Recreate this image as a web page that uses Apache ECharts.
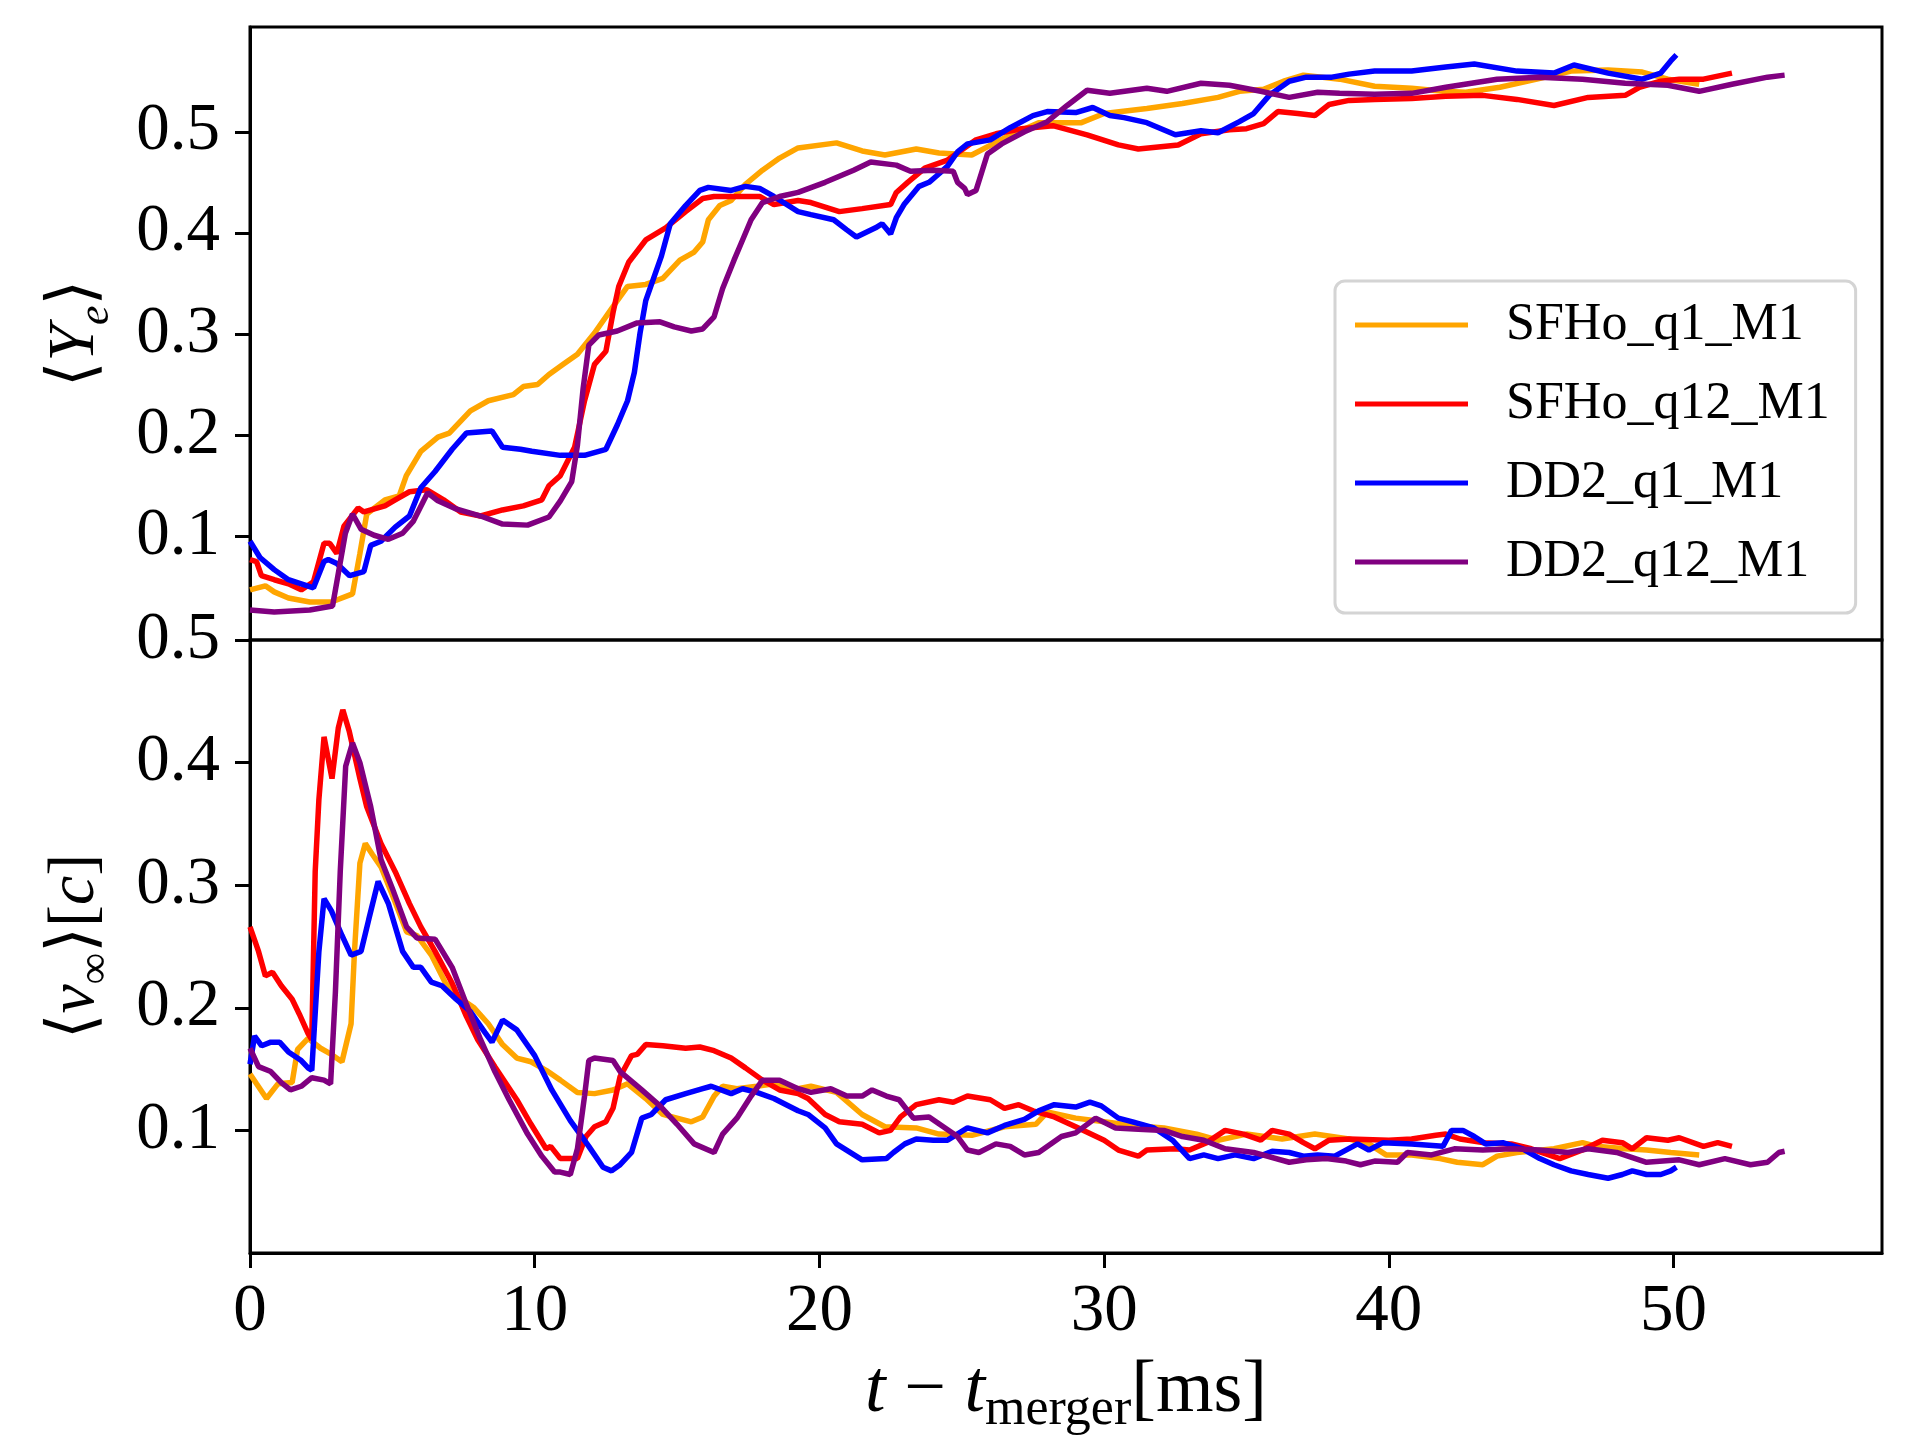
<!DOCTYPE html>
<html>
<head>
<meta charset="utf-8">
<script src="https://cdn.jsdelivr.net/npm/echarts@6/dist/echarts.min.js"></script>
<style>html,body{margin:0;padding:0;background:#fff}#c{width:1920px;height:1440px}</style>
</head>
<body>
<div id="c"></div>
<script>
// ---- data: [t - t_merger (ms), value] ----
const seriesNames = ['SFHo_q1_M1', 'SFHo_q12_M1', 'DD2_q1_M1', 'DD2_q12_M1'];
const xTickValues = [0, 10, 20, 30, 40, 50];
const yTickValues = [0.1, 0.2, 0.3, 0.4, 0.5];

const yeSFHoQ1 = [[0,0.047],[0.54,0.051],[0.85,0.045],[1.35,0.039],[2.1,0.035],[2.86,0.035],[3.6,0.043],[3.86,0.083],[4.1,0.122],[4.74,0.136],[5.24,0.140],[5.49,0.16],[6.0,0.184],[6.6,0.198],[7.0,0.202],[7.74,0.224],[8.37,0.234],[9.25,0.240],[9.6,0.248],[10.1,0.250],[10.5,0.260],[11.0,0.270],[11.5,0.280],[12.1,0.301],[12.75,0.327],[13.26,0.347],[13.9,0.349],[14.5,0.355],[15.1,0.373],[15.6,0.381],[15.9,0.391],[16.1,0.413],[16.5,0.427],[16.9,0.432],[17.4,0.448],[18.0,0.462],[18.6,0.474],[19.25,0.484],[20.6,0.489],[21.5,0.481],[22.3,0.477],[23.4,0.483],[24.2,0.479],[25.35,0.477],[26.5,0.494],[27.7,0.509],[29.2,0.509],[30.0,0.518],[31.5,0.523],[32.75,0.528],[34.0,0.534],[34.75,0.540],[35.6,0.542],[36.3,0.550],[37.0,0.556],[38.27,0.552],[39.5,0.545],[40.8,0.543],[41.9,0.540],[42.7,0.539],[43.9,0.544],[45.2,0.552],[46.4,0.560],[47.7,0.561],[48.9,0.559],[49.8,0.552],[50.9,0.547]];
const yeSFHoQ12 = [[0,0.077],[0.23,0.075],[0.4,0.061],[0.85,0.057],[1.35,0.053],[1.8,0.047],[2.23,0.055],[2.6,0.093],[2.8,0.093],[3.05,0.083],[3.3,0.110],[3.8,0.128],[4.0,0.124],[4.74,0.130],[5.1,0.136],[5.6,0.144],[6.2,0.146],[6.8,0.136],[7.4,0.124],[8.1,0.120],[8.87,0.126],[9.6,0.130],[10.25,0.136],[10.5,0.150],[10.9,0.160],[11.4,0.188],[11.75,0.234],[12.1,0.270],[12.5,0.283],[12.75,0.321],[12.95,0.347],[13.3,0.371],[13.9,0.393],[14.6,0.405],[15.3,0.421],[15.9,0.434],[16.3,0.436],[17.1,0.436],[17.9,0.436],[18.4,0.428],[19.25,0.432],[19.7,0.430],[20.7,0.421],[21.5,0.424],[22.5,0.428],[22.7,0.440],[23.1,0.450],[23.7,0.464],[24.5,0.472],[25.5,0.492],[26.2,0.498],[27.1,0.503],[28.2,0.506],[29.4,0.497],[30.5,0.487],[31.2,0.483],[32.6,0.487],[33.4,0.498],[34.4,0.502],[35.0,0.503],[35.6,0.508],[36.1,0.520],[36.8,0.518],[37.4,0.516],[37.9,0.527],[38.6,0.531],[39.5,0.532],[40.8,0.533],[42.0,0.535],[43.3,0.536],[44.5,0.532],[45.8,0.526],[47.0,0.534],[48.3,0.536],[48.8,0.544],[49.55,0.550],[50.2,0.552],[51.05,0.552],[52.05,0.558]];
const yeDD2Q1 = [[0,0.095],[0.35,0.079],[0.85,0.067],[1.35,0.057],[1.8,0.053],[2.23,0.049],[2.6,0.075],[2.75,0.077],[3.05,0.073],[3.5,0.061],[4.0,0.065],[4.24,0.091],[4.6,0.095],[5.1,0.109],[5.6,0.120],[6.0,0.148],[6.5,0.164],[7.1,0.186],[7.6,0.202],[8.5,0.204],[8.87,0.188],[9.5,0.186],[9.9,0.184],[10.9,0.180],[11.75,0.180],[12.5,0.186],[12.9,0.210],[13.26,0.234],[13.5,0.262],[13.7,0.301],[13.9,0.333],[14.1,0.349],[14.45,0.377],[14.76,0.409],[15.3,0.427],[15.8,0.442],[16.1,0.445],[16.9,0.442],[17.4,0.446],[17.9,0.444],[18.4,0.436],[19.25,0.421],[19.7,0.418],[20.5,0.413],[20.96,0.403],[21.3,0.396],[21.97,0.405],[22.2,0.409],[22.5,0.399],[22.7,0.415],[22.97,0.428],[23.5,0.446],[23.85,0.450],[24.1,0.456],[24.5,0.466],[24.85,0.480],[25.2,0.488],[26.0,0.492],[26.7,0.504],[27.5,0.516],[28.0,0.520],[29.0,0.519],[29.6,0.524],[30.2,0.516],[30.7,0.514],[31.5,0.509],[32.5,0.497],[33.4,0.501],[34.0,0.499],[34.75,0.510],[35.25,0.518],[35.8,0.536],[36.5,0.550],[37.1,0.554],[38.0,0.554],[38.6,0.557],[39.5,0.560],[40.8,0.560],[42.0,0.564],[43.0,0.567],[44.5,0.560],[45.8,0.558],[46.5,0.566],[47.7,0.558],[48.9,0.552],[49.55,0.558],[49.9,0.570],[50.1,0.576]];
const yeDD2Q12 = [[0,0.027],[0.85,0.025],[2.1,0.027],[2.9,0.031],[3.1,0.063],[3.35,0.103],[3.6,0.122],[3.9,0.107],[4.36,0.101],[4.86,0.097],[5.36,0.103],[5.74,0.115],[6.24,0.143],[6.6,0.135],[7.24,0.127],[8.1,0.120],[8.87,0.112],[9.75,0.111],[10.5,0.119],[10.9,0.135],[11.3,0.154],[11.5,0.190],[11.7,0.246],[11.9,0.289],[12.25,0.299],[12.9,0.303],[13.6,0.311],[14.4,0.312],[14.9,0.307],[15.5,0.303],[15.9,0.305],[16.3,0.317],[16.6,0.345],[17.0,0.373],[17.3,0.393],[17.6,0.413],[18.0,0.430],[18.6,0.436],[19.25,0.440],[20.2,0.450],[21.2,0.462],[21.8,0.470],[22.7,0.467],[23.2,0.461],[24.0,0.462],[24.7,0.461],[24.85,0.450],[25.1,0.444],[25.2,0.438],[25.5,0.442],[25.7,0.460],[25.9,0.478],[26.4,0.488],[27.2,0.500],[28.0,0.510],[28.7,0.526],[29.4,0.541],[30.2,0.538],[31.5,0.543],[32.2,0.540],[33.4,0.548],[34.4,0.546],[35.5,0.540],[36.5,0.534],[37.5,0.539],[38.27,0.538],[39.5,0.537],[40.8,0.538],[42.0,0.544],[43.8,0.552],[45.3,0.554],[46.8,0.552],[48.3,0.548],[49.8,0.546],[50.9,0.540],[52.05,0.547],[53.3,0.554],[53.9,0.556]];

const vSFHoQ1 = [[0,0.146],[0.23,0.138],[0.58,0.126],[0.98,0.138],[1.48,0.139],[1.67,0.166],[2.04,0.175],[2.48,0.167],[2.86,0.162],[3.23,0.156],[3.55,0.187],[3.67,0.246],[3.86,0.318],[4.05,0.334],[4.3,0.325],[4.6,0.315],[5.0,0.292],[5.5,0.262],[5.86,0.259],[6.37,0.243],[6.87,0.220],[7.37,0.208],[7.87,0.200],[8.37,0.187],[8.87,0.170],[9.37,0.159],[9.87,0.156],[10.4,0.149],[10.9,0.141],[11.5,0.131],[12.1,0.130],[12.75,0.133],[13.26,0.138],[13.9,0.126],[14.5,0.113],[15.0,0.110],[15.5,0.107],[15.9,0.111],[16.3,0.128],[16.6,0.136],[17.1,0.134],[17.8,0.136],[18.4,0.138],[19.25,0.134],[19.7,0.136],[20.6,0.131],[21.5,0.113],[22.3,0.103],[23.4,0.102],[24.2,0.097],[25.35,0.096],[26.5,0.103],[27.6,0.105],[28.0,0.115],[29.0,0.110],[30.0,0.107],[31.0,0.104],[32.1,0.102],[33.25,0.097],[34.0,0.092],[35.0,0.097],[36.25,0.093],[37.4,0.097],[38.6,0.093],[39.3,0.089],[39.9,0.080],[40.8,0.080],[41.8,0.077],[42.4,0.074],[43.3,0.072],[43.8,0.079],[44.5,0.082],[45.8,0.085],[46.8,0.090],[47.3,0.087],[48.3,0.085],[49.05,0.084],[49.9,0.082],[50.9,0.080]];
const vSFHoQ12 = [[0,0.266],[0.3,0.246],[0.54,0.226],[0.79,0.229],[1.1,0.218],[1.48,0.207],[1.73,0.195],[2.04,0.179],[2.17,0.174],[2.29,0.311],[2.42,0.370],[2.6,0.421],[2.88,0.387],[3.1,0.428],[3.26,0.443],[3.48,0.426],[3.86,0.387],[4.1,0.364],[4.6,0.334],[5.1,0.311],[5.6,0.285],[6.0,0.266],[6.5,0.246],[7.1,0.220],[7.6,0.193],[8.0,0.174],[8.6,0.152],[9.37,0.125],[9.87,0.105],[10.4,0.085],[10.56,0.087],[10.9,0.077],[11.5,0.077],[11.8,0.095],[12.1,0.103],[12.5,0.107],[12.75,0.118],[13.0,0.144],[13.4,0.161],[13.6,0.162],[13.9,0.170],[14.5,0.169],[15.3,0.167],[15.8,0.168],[16.3,0.165],[16.9,0.159],[17.4,0.151],[18.0,0.141],[18.6,0.133],[19.25,0.130],[19.6,0.126],[20.2,0.113],[20.7,0.107],[21.5,0.105],[22.1,0.098],[22.5,0.100],[22.85,0.111],[23.4,0.121],[24.2,0.125],[24.7,0.123],[25.2,0.128],[26.0,0.125],[26.5,0.118],[27.0,0.121],[27.5,0.116],[28.25,0.111],[29.0,0.103],[30.0,0.092],[30.5,0.084],[31.2,0.079],[31.5,0.084],[32.5,0.085],[33.0,0.084],[33.6,0.090],[34.25,0.100],[34.9,0.097],[35.5,0.092],[35.9,0.100],[36.5,0.097],[37.0,0.090],[37.4,0.085],[37.9,0.092],[38.6,0.093],[40.0,0.092],[40.8,0.093],[41.65,0.096],[42.0,0.097],[42.5,0.093],[43.3,0.090],[44.3,0.089],[45.0,0.085],[46.0,0.077],[46.8,0.084],[47.5,0.092],[48.2,0.090],[48.55,0.085],[49.05,0.094],[49.8,0.092],[50.2,0.094],[51.05,0.087],[51.55,0.090],[52.05,0.087]];
const vDD2Q1 = [[0,0.154],[0.16,0.177],[0.41,0.169],[0.73,0.172],[1.04,0.172],[1.35,0.164],[1.8,0.157],[2.04,0.151],[2.17,0.149],[2.42,0.246],[2.6,0.289],[2.86,0.279],[3.23,0.259],[3.55,0.243],[3.9,0.246],[4.17,0.272],[4.5,0.303],[4.86,0.285],[5.36,0.246],[5.74,0.233],[6.0,0.233],[6.37,0.221],[6.74,0.218],[7.24,0.207],[7.74,0.197],[8.25,0.180],[8.5,0.172],[8.87,0.190],[9.37,0.182],[10.0,0.161],[10.6,0.133],[11.25,0.108],[11.9,0.087],[12.4,0.070],[12.7,0.067],[13.0,0.072],[13.4,0.082],[13.76,0.110],[14.1,0.113],[14.6,0.125],[15.3,0.130],[15.9,0.134],[16.2,0.136],[16.9,0.130],[17.3,0.134],[17.8,0.131],[18.4,0.126],[19.25,0.116],[19.6,0.113],[20.2,0.102],[20.6,0.089],[21.5,0.076],[22.35,0.077],[22.6,0.082],[23.0,0.089],[23.4,0.093],[24.0,0.092],[24.5,0.092],[25.2,0.102],[25.9,0.098],[26.5,0.104],[27.2,0.109],[27.7,0.116],[28.25,0.121],[29.0,0.119],[29.5,0.123],[29.9,0.120],[30.5,0.110],[31.0,0.107],[31.75,0.102],[32.4,0.092],[33.0,0.077],[33.5,0.080],[34.0,0.077],[34.6,0.080],[35.25,0.077],[35.9,0.083],[36.5,0.082],[37.0,0.079],[37.5,0.080],[38.1,0.079],[38.9,0.089],[39.3,0.084],[39.8,0.090],[40.8,0.089],[41.9,0.087],[42.2,0.100],[42.6,0.100],[43.0,0.095],[43.4,0.089],[44.0,0.090],[44.7,0.085],[45.3,0.077],[45.8,0.072],[46.4,0.067],[47.0,0.064],[47.7,0.061],[48.2,0.064],[48.55,0.067],[49.05,0.064],[49.55,0.064],[49.9,0.067],[50.1,0.070]];
const vDD2Q12 = [[0,0.167],[0.3,0.152],[0.73,0.148],[1.1,0.139],[1.42,0.133],[1.8,0.136],[2.17,0.143],[2.6,0.141],[2.83,0.138],[3.0,0.213],[3.17,0.311],[3.36,0.397],[3.6,0.416],[3.86,0.400],[4.24,0.364],[4.6,0.321],[4.99,0.298],[5.5,0.266],[5.86,0.257],[6.5,0.256],[7.1,0.233],[7.6,0.203],[8.1,0.174],[8.6,0.148],[9.1,0.125],[9.75,0.097],[10.25,0.079],[10.7,0.066],[10.9,0.066],[11.25,0.064],[11.5,0.085],[11.75,0.128],[11.9,0.157],[12.1,0.159],[12.75,0.157],[13.0,0.148],[13.76,0.133],[14.4,0.120],[15.0,0.105],[15.6,0.089],[16.3,0.082],[16.6,0.097],[17.1,0.110],[17.6,0.128],[18.0,0.141],[18.6,0.141],[19.25,0.134],[19.7,0.131],[20.4,0.134],[20.96,0.128],[21.5,0.128],[21.85,0.133],[22.35,0.128],[22.8,0.125],[23.3,0.110],[23.85,0.111],[24.35,0.103],[24.85,0.095],[25.2,0.084],[25.6,0.082],[26.2,0.089],[26.7,0.087],[27.2,0.080],[27.7,0.082],[28.5,0.095],[29.0,0.098],[29.7,0.110],[30.4,0.102],[31.2,0.101],[32.1,0.100],[32.75,0.095],[33.5,0.092],[34.25,0.085],[35.25,0.082],[36.5,0.074],[37.1,0.076],[37.8,0.077],[38.5,0.075],[39.0,0.072],[39.5,0.075],[40.3,0.074],[40.65,0.082],[41.5,0.080],[42.3,0.085],[43.3,0.084],[44.3,0.085],[45.3,0.084],[46.3,0.082],[47.0,0.085],[48.0,0.082],[49.05,0.074],[50.2,0.076],[50.9,0.072],[51.8,0.077],[52.7,0.072],[53.3,0.074],[53.7,0.082],[53.9,0.083]];

const colors = ['#FFA500', '#FF0000', '#0000FF', '#800080'];
const yeData = [yeSFHoQ1, yeSFHoQ12, yeDD2Q1, yeDD2Q12];
const vData = [vSFHoQ1, vSFHoQ12, vDD2Q1, vDD2Q12];

// ---- chart ----
const FF = "'Liberation Serif', 'DejaVu Serif', serif";
const TICK_FS = 67;
const nameRich = {
  r: {fontSize: 66, fontFamily: FF, color: '#000', lineHeight: 84},
  i: {fontSize: 66, fontFamily: FF, fontStyle: 'italic', color: '#000', lineHeight: 84},
  s: {fontSize: 44, fontFamily: FF, fontStyle: 'italic', color: '#000', lineHeight: 44, verticalAlign: 'bottom'},
  sr: {fontSize: 44, fontFamily: FF, color: '#000', lineHeight: 44, verticalAlign: 'bottom'}
};
const xNameRich = {
  r: {fontSize: 74, fontFamily: FF, color: '#000', lineHeight: 88},
  i: {fontSize: 74, fontFamily: FF, fontStyle: 'italic', color: '#000', lineHeight: 88},
  sr: {fontSize: 52, fontFamily: FF, color: '#000', lineHeight: 50, verticalAlign: 'bottom'}
};
const X_MAX = 57.32;
const LINE_W = 5.5;

function yAxisCommon(grid, min, max, name) {
  return {
    gridIndex: grid, type: 'value', min: min, max: max,
    axisLine: {show: true, lineStyle: {color: '#000', width: 3}},
    axisTick: {show: true, inside: false, length: 15, lineStyle: {color: '#000', width: 3}, customValues: yTickValues},
    axisLabel: {show: true, customValues: yTickValues, fontSize: TICK_FS, fontFamily: FF, color: '#000', margin: 30,
      formatter: v => v.toFixed(1)},
    splitLine: {show: false},
    name: name, nameLocation: 'middle', nameGap: 132, nameRotate: 90,
    nameTextStyle: {rich: nameRich, fontFamily: FF, fontSize: 66, color: '#000'}
  };
}

const series = [];
for (let k = 0; k < 4; k++) {
  series.push({name: seriesNames[k], type: 'line', xAxisIndex: 0, yAxisIndex: 0, data: yeData[k],
    showSymbol: false, symbol: 'none', lineStyle: {color: colors[k], width: LINE_W}, itemStyle: {color: colors[k]}, z: 2 + k});
}
for (let k = 0; k < 4; k++) {
  series.push({name: seriesNames[k], type: 'line', xAxisIndex: 1, yAxisIndex: 1, data: vData[k],
    showSymbol: false, symbol: 'none', lineStyle: {color: colors[k], width: LINE_W}, itemStyle: {color: colors[k]}, z: 2 + k});
}

const option = {
  backgroundColor: '#fff',
  animation: false,
  grid: [
    {left: 250, right: 38, top: 27, height: 613, show: true, borderColor: '#000', borderWidth: 3,
      backgroundColor: 'transparent', containLabel: false, outerBoundsMode: 'none'},
    {left: 250, right: 38, top: 640, height: 613, show: true, borderColor: '#000', borderWidth: 3,
      backgroundColor: 'transparent', containLabel: false, outerBoundsMode: 'none'}
  ],
  legend: {
    data: seriesNames, orient: 'vertical', left: 1335, top: 281,
    icon: 'rect', itemWidth: 113, itemHeight: 5, itemGap: 19,
    selectedMode: false,
    backgroundColor: '#fff', borderColor: '#d4d4d4', borderWidth: 3, borderRadius: 10,
    padding: [14, 26, 21, 20],
    textStyle: {fontSize: 52, fontFamily: FF, color: '#000', lineHeight: 60, padding: [0, 0, 0, 33]}
  },
  xAxis: [
    {gridIndex: 0, type: 'value', min: 0, max: X_MAX, axisLine: {show: false}, axisTick: {show: false},
      axisLabel: {show: false}, splitLine: {show: false}},
    {gridIndex: 1, type: 'value', min: 0, max: X_MAX,
      axisLine: {show: true, onZero: false, lineStyle: {color: '#000', width: 3}},
      axisTick: {show: true, inside: false, length: 15, lineStyle: {color: '#000', width: 3}, customValues: xTickValues},
      axisLabel: {show: true, customValues: xTickValues, fontSize: TICK_FS, fontFamily: FF, color: '#000', margin: 26},
      splitLine: {show: false},
      name: '{i|t}{r| − }{i|t}{sr|merger}{r|[ms]}', nameLocation: 'middle', nameGap: 95,
      nameTextStyle: {rich: xNameRich, fontFamily: FF, fontSize: 74, color: '#000'}}
  ],
  yAxis: [
    yAxisCommon(0, -0.0026, 0.6036, '{r|⟨}{i|Y}{s|e}{r|⟩}'),
    yAxisCommon(1, 0, 0.5, '{r|⟨}{i|v}{sr|∞}{r|⟩[}{i|c}{r|]}')
  ],
  series: series
};

const chart = echarts.init(document.getElementById('c'), null, {renderer: 'canvas', width: 1920, height: 1440});
chart.setOption(option);
</script>
</body>
</html>
